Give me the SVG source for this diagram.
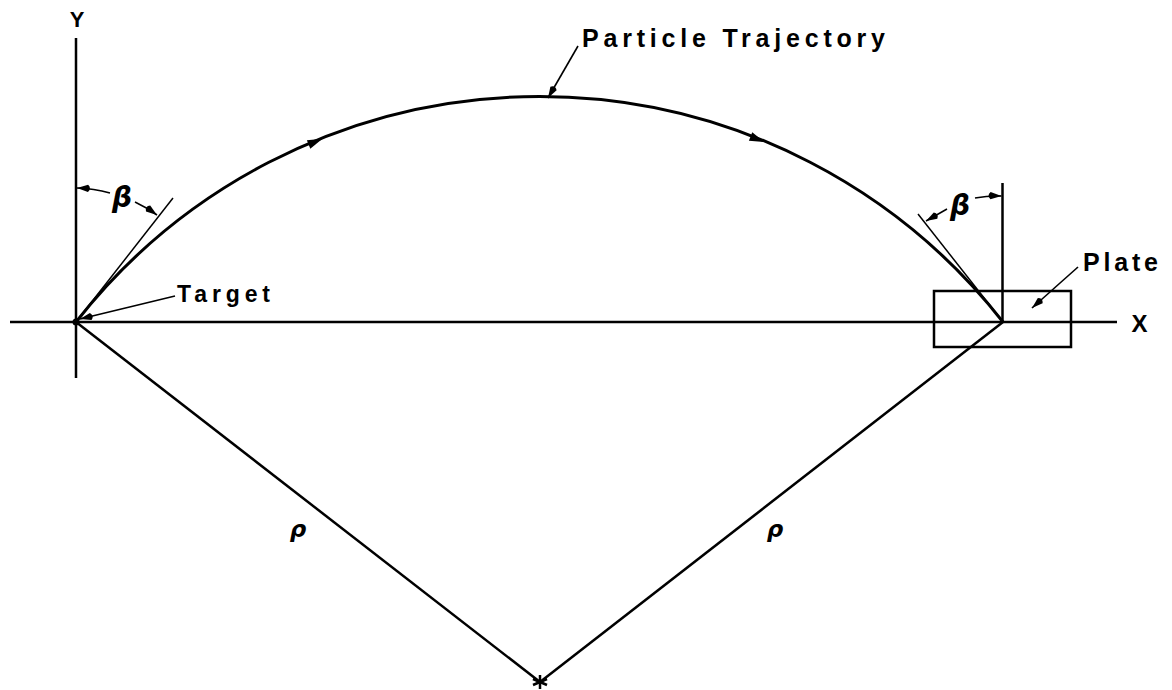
<svg xmlns="http://www.w3.org/2000/svg" width="1172" height="690" viewBox="0 0 1172 690">
<style>
.bg{fill:#fff}
.ax{stroke:#000;stroke-width:2.5;fill:none}
.thin{stroke:#000;stroke-width:1.5;fill:none}
.dim{stroke:#000;stroke-width:1.6;fill:none}
.lbl{font-family:"Liberation Sans",Arial,sans-serif;font-weight:bold;fill:#000}
.gr{font-family:"DejaVu Sans","Liberation Sans",sans-serif;font-weight:bold;font-style:italic;fill:#000}
</style>
<defs>
<marker id="ah" markerUnits="userSpaceOnUse" markerWidth="20" markerHeight="12" viewBox="-16 -6 18 12" refX="0" refY="0" orient="auto">
<path d="M0,0 L-11,-3.6 Q-15,0 -11,3.6 Z" fill="#000"/>
</marker>
</defs>
<rect class="bg" x="0" y="0" width="1172" height="690"/>

<g id="axes">
<line class="ax" x1="76" y1="38" x2="76" y2="378"/>
<line class="ax" x1="10" y1="322" x2="1117" y2="322"/>
<text class="lbl" x="77" y="27" font-size="22" text-anchor="middle">Y</text>
<text class="lbl" x="1139.5" y="332" font-size="24" text-anchor="middle">X</text>
</g>

<g id="trajectory">
<path class="ax" style="stroke-width:3" d="M76,322 A589,589 0 0 1 1003,322"/>
<polygon points="7,0 -8,-4.5 -8,4.5" fill="#000" transform="translate(316,141.5) rotate(-22.3)"/>
<polygon points="7,0 -8,-4.5 -8,4.5" fill="#000" transform="translate(758,139.5) rotate(21.7)"/>
</g>

<g id="target">
<circle cx="76" cy="322" r="3.5" fill="#000"/>
<text class="lbl" x="177" y="302" font-size="23" textLength="93" lengthAdjust="spacing">Target</text>
</g>

<g id="plate">
<rect class="ax" x="934" y="291" width="137" height="56"/>
<text class="lbl" x="1083" y="271" font-size="25" textLength="75" lengthAdjust="spacing">Plate</text>
</g>

<g id="center">
<line class="ax" x1="540" y1="675" x2="540" y2="689"/>
<line class="ax" x1="533" y1="679" x2="547" y2="685"/>
<line class="ax" x1="533" y1="685" x2="547" y2="679"/>
</g>

<g id="particle-label">
<text class="lbl" x="582" y="47" font-size="25" textLength="303" lengthAdjust="spacing">Particle Trajectory</text>
</g>

<g id="beta-left">
<text class="gr" x="122" y="207" font-size="28" text-anchor="middle">β</text>
</g>
<g id="beta-right">
<text class="gr" x="960" y="215" font-size="28" text-anchor="middle">β</text>
</g>

<g id="rho">
<text class="gr" x="298" y="537" font-size="23" text-anchor="middle">ρ</text>
<text class="gr" x="775" y="537" font-size="23" text-anchor="middle">ρ</text>
</g>

<g id="connectors">
<line class="ax" x1="76" y1="322" x2="540" y2="682"/>
<line class="ax" x1="1003" y1="322" x2="540" y2="682"/>
<line class="thin" x1="76" y1="322" x2="173" y2="198"/>
<line class="thin" x1="1003" y1="322" x2="918" y2="214"/>
<line class="ax" x1="1002.5" y1="183" x2="1002.5" y2="322"/>
<path class="dim" marker-end="url(#ah)" d="M110,193 A134,134 0 0 0 77,188"/>
<path class="dim" marker-end="url(#ah)" d="M135,202 A134,134 0 0 1 157,215"/>
<path class="dim" marker-end="url(#ah)" d="M975,198 A126,126 0 0 1 1001.5,196"/>
<path class="dim" marker-end="url(#ah)" d="M947,209 L926,221"/>
<line class="dim" marker-end="url(#ah)" x1="578" y1="46" x2="548" y2="98"/>
<line class="dim" marker-end="url(#ah)" x1="175" y1="296" x2="80" y2="319"/>
<line class="dim" marker-end="url(#ah)" x1="1078" y1="267" x2="1032" y2="308"/>
</g>
</svg>
